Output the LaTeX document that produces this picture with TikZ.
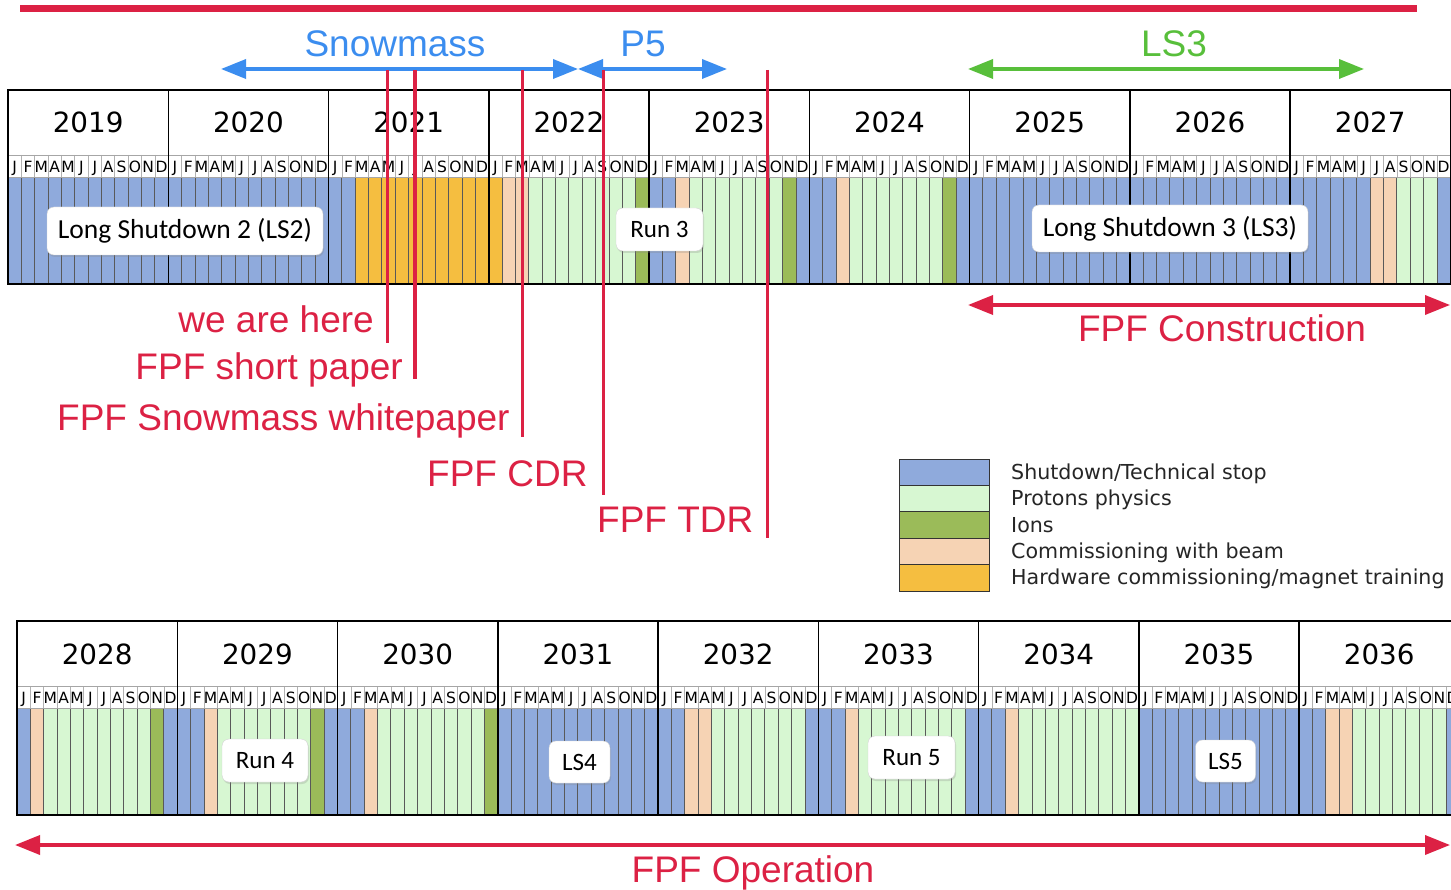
\documentclass[tikz,border=0pt]{standalone}
\usepackage{fontspec}
\setmainfont{Liberation Sans}
\newfontfamily\verd{DejaVu Sans}
\newfontfamily\cali{Carlito}
\usetikzlibrary{arrows.meta,shadows}
\definecolor{colB}{HTML}{8FAADC}
\definecolor{colG}{HTML}{D7F7D2}
\definecolor{colI}{HTML}{9BBB59}
\definecolor{colC}{HTML}{F6D3B4}
\definecolor{colH}{HTML}{F5BE40}
\definecolor{fpfred}{HTML}{DC2144}
\definecolor{fpfblue}{HTML}{3B8DEF}
\definecolor{fpfgreen}{HTML}{58BF3B}
\tikzset{
 redline/.style={fpfred, line width=3.5pt},
 redtxt/.style={text=fpfred, font=\fontsize{37}{40}\selectfont, inner sep=0pt},
 bluetxt/.style={text=fpfblue, font=\fontsize{37}{40}\selectfont, inner sep=0pt, anchor=base},
 greentxt/.style={text=fpfgreen, font=\fontsize{37}{40}\selectfont, inner sep=0pt, anchor=base},
 lbl/.style={draw=gray!35, fill=white, rounded corners=7pt, inner sep=0pt,
   drop shadow={opacity=0.25, shadow xshift=1pt, shadow yshift=-2pt}},
 bigl/.style={lbl, font=\cali\fontsize{27.5}{30}\selectfont},
 smalll/.style={lbl, font=\cali\fontsize{25}{28}\selectfont},
 yearlbl/.style={font=\verd\fontsize{27.8}{30}\selectfont, inner sep=0pt, anchor=base},
 monlbl/.style={font=\verd\fontsize{15.5}{16}\selectfont, inner sep=0pt, anchor=base},
 legbox/.style={draw=black!80, line width=0.8pt},
 legtxt/.style={font=\verd\fontsize{20.6}{22}\selectfont, inner sep=0pt, anchor=base west, text=black!85},
 dblarrow/.style={line width=3.5pt, {Triangle[length=25pt,width=19pt]}-{Triangle[length=25pt,width=19pt]}},
}
\newcommand{\drawtl}[4]{%
 % #1 = x0, #2 = ytop, #3 = first year, #4 = colour codes per year
 \foreach \codes [count=\yi from 0] in {#4}{%
   \foreach \c [count=\m from 0] in \codes{%
     \fill[col\c] ({#1+(\yi*12+\m)*13.355},{#2+87.5}) rectangle ++(13.355,106.5);
   }
 }
 \foreach \k in {1,...,107}{%
   \draw[gray!60, line width=0.7pt] ({#1+\k*13.355},{#2+65}) -- ({#1+\k*13.355},{#2+87.5});
   \draw[black!65, line width=0.9pt] ({#1+\k*13.355},{#2+87.5}) -- ({#1+\k*13.355},{#2+194});
 }
 \draw[gray!70, line width=0.9pt] ({#1},{#2+65}) -- ({#1+108*13.355},{#2+65});
 \draw[gray!70, line width=0.9pt] ({#1},{#2+87.5}) -- ({#1+108*13.355},{#2+87.5});
 \foreach \k in {1,...,8}{%
   \draw[black, line width=1.5pt] ({#1+\k*160.26},{#2}) -- ({#1+\k*160.26},{#2+194});
 }
 \draw[black, line width=1.5pt] ({#1},{#2}) rectangle ({#1+108*13.355},{#2+194});
 \foreach \k in {0,...,8}{%
   \pgfmathtruncatemacro\yr{#3+\k}
   \node[yearlbl] (y\yr) at ({#1+(\k+0.5)*160.26},{#2+43}) {\yr};
   \foreach \l [count=\m from 0] in {J,F,M,A,M,J,J,A,S,O,N,D}{%
     \node[monlbl] (m\yr-\m) at ({#1+(\k*12+\m+0.5)*13.355},{#2+82.3}) {\l};
   }
 }
}
\begin{document}
\begin{tikzpicture}[x=1pt,y=-1pt]
\clip (0,0) rectangle (1451,890);
\fill[white] (0,0) rectangle (1451,890);

% top red bar
\coordinate (bar-l) at (20,8.5);
\coordinate (bar-r) at (1417,8.5);
\draw[fpfred, line width=7pt] (bar-l) -- (bar-r);

% timelines
\drawtl{8}{90}{2019}{{B,B,B,B,B,B,B,B,B,B,B,B},{B,B,B,B,B,B,B,B,B,B,B,B},{B,B,H,H,H,H,H,H,H,H,H,H},{H,C,C,G,G,G,G,G,G,G,G,I},{B,B,C,G,G,G,G,G,G,G,I,B},{B,B,C,G,G,G,G,G,G,G,I,B},{B,B,B,B,B,B,B,B,B,B,B,B},{B,B,B,B,B,B,B,B,B,B,B,B},{B,B,B,B,B,B,C,C,G,G,G,B}}
\drawtl{17}{621}{2028}{{B,C,G,G,G,G,G,G,G,G,I,B},{B,B,C,G,G,G,G,G,G,G,I,B},{B,B,C,G,G,G,G,G,G,G,G,I},{B,B,B,B,B,B,B,B,B,B,B,B},{B,B,C,C,G,G,G,G,G,G,G,B},{B,B,C,G,G,G,G,G,G,G,G,B},{B,B,C,G,G,G,G,G,G,G,G,G},{B,B,B,B,B,B,B,B,B,B,B,B},{B,B,C,C,G,G,G,G,G,G,G,B}}

% period labels
\node[bigl, minimum width=276pt, minimum height=48pt] (ls2) at (185,231) {Long Shutdown 2 (LS2)};
\node[smalll, minimum width=87pt, minimum height=43pt] (run3) at (659.5,229.5) {Run 3};
\node[bigl, minimum width=276pt, minimum height=47pt] (ls3) at (1170,228.5) {Long Shutdown 3 (LS3)};
\node[smalll, minimum width=86pt, minimum height=43pt] (run4) at (265,760.5) {Run 4};
\node[smalll, minimum width=61pt, minimum height=42pt] (ls4) at (579.5,762) {LS4};
\node[smalll, minimum width=87pt, minimum height=43pt] (run5) at (911.5,757.5) {Run 5};
\node[smalll, minimum width=60pt, minimum height=42pt] (ls5) at (1225.5,761) {LS5};

% Snowmass / P5 / LS3 arrows
\coordinate (sm-l) at (221,69);
\coordinate (sm-r) at (578,69);
\coordinate (p5-l) at (578,69);
\coordinate (p5-r) at (727,69);
\coordinate (lsa-l) at (968,69);
\coordinate (lsa-r) at (1364,69);
\draw[dblarrow, fpfblue] (sm-l) -- (sm-r);
\draw[dblarrow, fpfblue] (p5-l) -- (p5-r);
\draw[dblarrow, fpfgreen] (lsa-l) -- (lsa-r);
\node[bluetxt] (snow) at (395,56.5) {Snowmass};
\node[bluetxt] (p5) at (643,56.5) {P5};
\node[greentxt] (ls3t) at (1174,56.5) {LS3};

% red milestone lines
\coordinate (l1t) at (387.5,70); \coordinate (l1b) at (387.5,343);
\coordinate (l2t) at (415,70);   \coordinate (l2b) at (415,379);
\coordinate (l3t) at (522.5,70); \coordinate (l3b) at (522.5,437);
\coordinate (l4t) at (603.5,70); \coordinate (l4b) at (603.5,495);
\coordinate (l5t) at (767.5,70); \coordinate (l5b) at (767.5,538);
\draw[redline] (l1t) -- (l1b);
\draw[redline] (l2t) -- (l2b);
\draw[redline] (l3t) -- (l3b);
\draw[redline] (l4t) -- (l4b);
\draw[redline] (l5t) -- (l5b);

\node[redtxt, anchor=base east] (here) at (374,333) {we are here};
\node[redtxt, anchor=base east] (short) at (403,379.5) {FPF short paper};
\node[redtxt, anchor=base west] (white) at (57,431) {FPF Snowmass whitepaper};
\node[redtxt, anchor=base west] (cdr) at (427,486.5) {FPF CDR};
\node[redtxt, anchor=base west] (tdr) at (597,532.5) {FPF TDR};

% construction / operation
\coordinate (con-l) at (968,305);
\coordinate (con-r) at (1450,305);
\draw[dblarrow, fpfred] (con-l) -- (con-r);
\node[redtxt, anchor=base] (constr) at (1222,342) {FPF Construction};
\coordinate (op-l) at (15,845);
\coordinate (op-r) at (1450,845);
\draw[dblarrow, fpfred] (op-l) -- (op-r);
\node[redtxt, anchor=base] (oper) at (753,882) {FPF Operation};

% legend
\fill[colB] (899,459) rectangle (989,485.4);
\fill[colG] (899,485.4) rectangle (989,511.8);
\fill[colI] (899,511.8) rectangle (989,538.2);
\fill[colC] (899,538.2) rectangle (989,564.6);
\fill[colH] (899,564.6) rectangle (989,591);
\foreach \yy in {485.4,511.8,538.2,564.6}{\draw[legbox] (899,\yy) -- (989,\yy);}
\draw[legbox] (899,459) rectangle (989,591);
\node[legtxt] (lg1) at (1011,479.2) {Shutdown/Technical stop};
\node[legtxt] (lg2) at (1011,505.6) {Protons physics};
\node[legtxt] (lg3) at (1011,532) {Ions};
\node[legtxt] (lg4) at (1011,558.4) {Commissioning with beam};
\node[legtxt] (lg5) at (1011,584.8) {Hardware commissioning/magnet training};
\end{tikzpicture}
\end{document}
